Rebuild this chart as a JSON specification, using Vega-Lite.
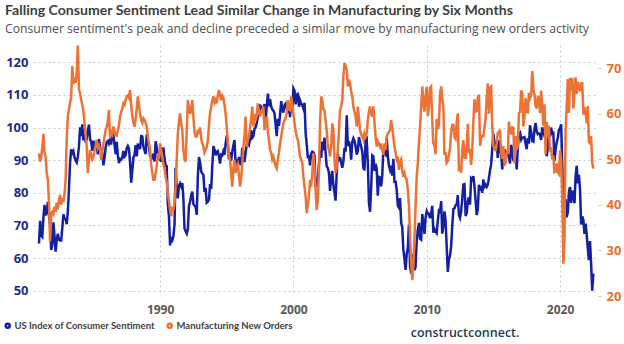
{
"$schema": "https://vega.github.io/schema/vega-lite/v6.json",
"width": 565, "height": 251,
"autosize": {"type": "none"},
"padding": {"left": 33, "top": 45, "right": 26, "bottom": 48},
"title": {"text": "Falling Consumer Sentiment Lead Similar Change in Manufacturing by Six Months", "subtitle": "Consumer sentiment's peak and decline preceded a similar move by manufacturing new orders activity", "anchor": "start", "frame": "group", "dx": -28, "offset": 5, "font": "Lato", "fontSize": 14.1, "fontWeight": "bold", "color": "#404040", "subtitleFont": "Open Sans", "subtitleFontSize": 12.2, "subtitleColor": "#505050", "subtitlePadding": 5},
"data": {"values": [
{"d":"1980-12","c":64.5,"n":51.3},
{"d":"1981-01","c":71.4,"n":49.5},{"d":"1981-02","c":66.9,"n":50.6},{"d":"1981-03","c":66.5,"n":52.5},{"d":"1981-04","c":72.4,"n":55.6},{"d":"1981-05","c":76.3,"n":51.5},{"d":"1981-06","c":73.1,"n":50.5},{"d":"1981-07","c":74.1,"n":46.9},{"d":"1981-08","c":77.2,"n":45.5},{"d":"1981-09","c":73.1,"n":40.5},{"d":"1981-10","c":70.3,"n":32.0},{"d":"1981-11","c":62.5,"n":38.0},{"d":"1981-12","c":64.3,"n":38.5},
{"d":"1982-01","c":71.0,"n":38.0},{"d":"1982-02","c":66.5,"n":39.6},{"d":"1982-03","c":62.0,"n":38.5},{"d":"1982-04","c":65.5,"n":40.5},{"d":"1982-05","c":67.5,"n":39.0},{"d":"1982-06","c":65.7,"n":41.0},{"d":"1982-07","c":65.4,"n":42.2},{"d":"1982-08","c":65.4,"n":40.0},{"d":"1982-09","c":69.3,"n":41.5},{"d":"1982-10","c":73.4,"n":40.6},{"d":"1982-11","c":72.1,"n":42.5},{"d":"1982-12","c":71.9,"n":45.5},
{"d":"1983-01","c":70.4,"n":55.0},{"d":"1983-02","c":74.6,"n":59.5},{"d":"1983-03","c":80.8,"n":60.8},{"d":"1983-04","c":89.1,"n":62.5},{"d":"1983-05","c":93.3,"n":63.5},{"d":"1983-06","c":92.2,"n":70.5},{"d":"1983-07","c":92.8,"n":66.5},{"d":"1983-08","c":90.9,"n":68.0},{"d":"1983-09","c":89.9,"n":66.8},{"d":"1983-10","c":89.3,"n":69.0},{"d":"1983-11","c":91.1,"n":75.0},{"d":"1983-12","c":94.2,"n":65.5},
{"d":"1984-01","c":100.1,"n":64.5},{"d":"1984-02","c":97.4,"n":63.0},{"d":"1984-03","c":101.0,"n":62.0},{"d":"1984-04","c":96.1,"n":60.5},{"d":"1984-05","c":98.1,"n":58.0},{"d":"1984-06","c":95.5,"n":55.5},{"d":"1984-07","c":96.6,"n":52.8},{"d":"1984-08","c":99.1,"n":47.0},{"d":"1984-09","c":100.9,"n":50.0},{"d":"1984-10","c":96.3,"n":52.1},{"d":"1984-11","c":95.7,"n":51.0},{"d":"1984-12","c":92.9,"n":50.0},
{"d":"1985-01","c":96.0,"n":50.6},{"d":"1985-02","c":93.7,"n":52.0},{"d":"1985-03","c":93.7,"n":53.0},{"d":"1985-04","c":94.6,"n":54.3},{"d":"1985-05","c":91.8,"n":52.5},{"d":"1985-06","c":96.5,"n":53.0},{"d":"1985-07","c":94.0,"n":52.1},{"d":"1985-08","c":92.4,"n":49.9},{"d":"1985-09","c":92.1,"n":51.5},{"d":"1985-10","c":88.4,"n":53.5},{"d":"1985-11","c":90.9,"n":55.0},{"d":"1985-12","c":93.9,"n":56.4},
{"d":"1986-01","c":95.6,"n":57.2},{"d":"1986-02","c":95.9,"n":58.5},{"d":"1986-03","c":95.1,"n":60.8},{"d":"1986-04","c":96.2,"n":54.6},{"d":"1986-05","c":94.8,"n":56.0},{"d":"1986-06","c":99.3,"n":55.5},{"d":"1986-07","c":97.7,"n":57.2},{"d":"1986-08","c":94.9,"n":56.0},{"d":"1986-09","c":91.9,"n":55.7},{"d":"1986-10","c":95.6,"n":55.0},{"d":"1986-11","c":91.4,"n":56.5},{"d":"1986-12","c":89.1,"n":57.5},
{"d":"1987-01","c":90.4,"n":59.4},{"d":"1987-02","c":90.2,"n":60.5},{"d":"1987-03","c":90.8,"n":61.0},{"d":"1987-04","c":92.8,"n":62.3},{"d":"1987-05","c":91.1,"n":62.0},{"d":"1987-06","c":91.5,"n":63.0},{"d":"1987-07","c":93.7,"n":63.8},{"d":"1987-08","c":94.4,"n":64.0},{"d":"1987-09","c":93.6,"n":63.5},{"d":"1987-10","c":89.3,"n":65.2},{"d":"1987-11","c":83.1,"n":62.0},{"d":"1987-12","c":86.8,"n":59.4},
{"d":"1988-01","c":90.8,"n":58.0},{"d":"1988-02","c":91.6,"n":57.2},{"d":"1988-03","c":94.6,"n":59.0},{"d":"1988-04","c":91.2,"n":61.0},{"d":"1988-05","c":94.8,"n":63.8},{"d":"1988-06","c":94.7,"n":62.0},{"d":"1988-07","c":93.4,"n":60.0},{"d":"1988-08","c":97.4,"n":58.6},{"d":"1988-09","c":97.3,"n":58.0},{"d":"1988-10","c":94.1,"n":59.0},{"d":"1988-11","c":93.0,"n":58.6},{"d":"1988-12","c":91.9,"n":58.0},
{"d":"1989-01","c":97.9,"n":57.2},{"d":"1989-02","c":95.4,"n":55.0},{"d":"1989-03","c":94.3,"n":53.5},{"d":"1989-04","c":91.5,"n":52.1},{"d":"1989-05","c":90.7,"n":49.0},{"d":"1989-06","c":90.6,"n":47.0},{"d":"1989-07","c":92.0,"n":45.5},{"d":"1989-08","c":89.6,"n":45.5},{"d":"1989-09","c":95.8,"n":47.0},{"d":"1989-10","c":93.9,"n":48.5},{"d":"1989-11","c":90.9,"n":51.3},{"d":"1989-12","c":90.5,"n":50.0},
{"d":"1990-01","c":93.0,"n":53.5},{"d":"1990-02","c":89.5,"n":52.0},{"d":"1990-03","c":91.3,"n":50.6},{"d":"1990-04","c":93.9,"n":49.0},{"d":"1990-05","c":90.6,"n":48.0},{"d":"1990-06","c":88.3,"n":46.2},{"d":"1990-07","c":88.2,"n":45.0},{"d":"1990-08","c":76.4,"n":42.5},{"d":"1990-09","c":72.8,"n":41.0},{"d":"1990-10","c":63.9,"n":38.9},{"d":"1990-11","c":66.0,"n":37.5},{"d":"1990-12","c":65.5,"n":39.6},
{"d":"1991-01","c":66.8,"n":38.9},{"d":"1991-02","c":70.4,"n":40.5},{"d":"1991-03","c":87.7,"n":44.0},{"d":"1991-04","c":81.8,"n":50.0},{"d":"1991-05","c":78.3,"n":55.5},{"d":"1991-06","c":82.1,"n":58.0},{"d":"1991-07","c":82.9,"n":60.1},{"d":"1991-08","c":82.0,"n":57.9},{"d":"1991-09","c":83.0,"n":56.5},{"d":"1991-10","c":78.3,"n":52.1},{"d":"1991-11","c":69.1,"n":50.0},{"d":"1991-12","c":68.2,"n":49.5},
{"d":"1992-01","c":67.5,"n":56.4},{"d":"1992-02","c":68.8,"n":63.0},{"d":"1992-03","c":76.0,"n":61.5},{"d":"1992-04","c":77.2,"n":60.0},{"d":"1992-05","c":79.2,"n":60.8},{"d":"1992-06","c":80.4,"n":63.0},{"d":"1992-07","c":76.6,"n":59.4},{"d":"1992-08","c":76.1,"n":56.0},{"d":"1992-09","c":75.6,"n":55.0},{"d":"1992-10","c":73.3,"n":55.0},{"d":"1992-11","c":85.3,"n":56.5},{"d":"1992-12","c":91.0,"n":55.7},
{"d":"1993-01","c":89.3,"n":57.0},{"d":"1993-02","c":86.6,"n":54.5},{"d":"1993-03","c":85.9,"n":53.5},{"d":"1993-04","c":85.6,"n":52.8},{"d":"1993-05","c":80.3,"n":51.5},{"d":"1993-06","c":81.5,"n":52.1},{"d":"1993-07","c":77.0,"n":52.8},{"d":"1993-08","c":77.3,"n":54.0},{"d":"1993-09","c":77.9,"n":57.5},{"d":"1993-10","c":82.7,"n":60.1},{"d":"1993-11","c":81.2,"n":61.5},{"d":"1993-12","c":88.2,"n":63.0},
{"d":"1994-01","c":94.3,"n":63.8},{"d":"1994-02","c":93.2,"n":62.5},{"d":"1994-03","c":91.5,"n":63.0},{"d":"1994-04","c":92.6,"n":62.3},{"d":"1994-05","c":92.8,"n":64.0},{"d":"1994-06","c":91.2,"n":65.2},{"d":"1994-07","c":89.0,"n":64.0},{"d":"1994-08","c":91.7,"n":63.0},{"d":"1994-09","c":91.5,"n":64.0},{"d":"1994-10","c":92.7,"n":63.5},{"d":"1994-11","c":91.6,"n":62.0},{"d":"1994-12","c":95.1,"n":60.1},
{"d":"1995-01","c":97.6,"n":57.0},{"d":"1995-02","c":95.1,"n":53.5},{"d":"1995-03","c":90.3,"n":51.0},{"d":"1995-04","c":92.5,"n":49.9},{"d":"1995-05","c":89.8,"n":47.0},{"d":"1995-06","c":92.7,"n":44.0},{"d":"1995-07","c":94.4,"n":48.0},{"d":"1995-08","c":96.2,"n":49.9},{"d":"1995-09","c":88.9,"n":47.0},{"d":"1995-10","c":90.2,"n":48.5},{"d":"1995-11","c":88.2,"n":49.0},{"d":"1995-12","c":91.0,"n":46.5},
{"d":"1996-01","c":89.3,"n":44.0},{"d":"1996-02","c":88.5,"n":46.0},{"d":"1996-03","c":93.7,"n":49.0},{"d":"1996-04","c":92.7,"n":52.8},{"d":"1996-05","c":89.4,"n":55.0},{"d":"1996-06","c":92.4,"n":59.4},{"d":"1996-07","c":94.7,"n":52.8},{"d":"1996-08","c":95.3,"n":54.3},{"d":"1996-09","c":94.7,"n":55.0},{"d":"1996-10","c":96.5,"n":57.0},{"d":"1996-11","c":99.2,"n":59.0},{"d":"1996-12","c":96.9,"n":61.6},
{"d":"1997-01","c":97.4,"n":57.2},{"d":"1997-02","c":99.7,"n":60.0},{"d":"1997-03","c":100.0,"n":58.5},{"d":"1997-04","c":101.4,"n":59.5},{"d":"1997-05","c":103.2,"n":62.3},{"d":"1997-06","c":104.5,"n":60.5},{"d":"1997-07","c":107.1,"n":59.4},{"d":"1997-08","c":104.4,"n":60.5},{"d":"1997-09","c":106.0,"n":61.0},{"d":"1997-10","c":105.6,"n":61.6},{"d":"1997-11","c":107.2,"n":56.4},{"d":"1997-12","c":102.1,"n":58.0},
{"d":"1998-01","c":106.6,"n":59.4},{"d":"1998-02","c":110.4,"n":56.0},{"d":"1998-03","c":106.5,"n":54.5},{"d":"1998-04","c":108.7,"n":52.1},{"d":"1998-05","c":106.5,"n":51.5},{"d":"1998-06","c":105.6,"n":50.0},{"d":"1998-07","c":105.2,"n":50.6},{"d":"1998-08","c":104.4,"n":49.5},{"d":"1998-09","c":100.9,"n":48.5},{"d":"1998-10","c":97.4,"n":48.0},{"d":"1998-11","c":102.7,"n":49.9},{"d":"1998-12","c":100.5,"n":51.5},
{"d":"1999-01","c":103.9,"n":53.5},{"d":"1999-02","c":108.1,"n":55.0},{"d":"1999-03","c":105.7,"n":56.5},{"d":"1999-04","c":104.6,"n":57.9},{"d":"1999-05","c":106.8,"n":58.5},{"d":"1999-06","c":107.3,"n":59.0},{"d":"1999-07","c":106.0,"n":60.1},{"d":"1999-08","c":104.5,"n":63.0},{"d":"1999-09","c":107.2,"n":61.0},{"d":"1999-10","c":103.2,"n":60.8},{"d":"1999-11","c":107.2,"n":63.8},{"d":"1999-12","c":105.4,"n":62.0},
{"d":"2000-01","c":112.0,"n":60.1},{"d":"2000-02","c":111.3,"n":58.0},{"d":"2000-03","c":107.1,"n":56.4},{"d":"2000-04","c":109.2,"n":55.0},{"d":"2000-05","c":110.7,"n":54.3},{"d":"2000-06","c":106.4,"n":52.5},{"d":"2000-07","c":108.3,"n":50.6},{"d":"2000-08","c":107.3,"n":50.0},{"d":"2000-09","c":106.8,"n":49.1},{"d":"2000-10","c":105.8,"n":46.2},{"d":"2000-11","c":107.6,"n":44.0},{"d":"2000-12","c":98.4,"n":41.8},
{"d":"2001-01","c":94.7,"n":38.2},{"d":"2001-02","c":90.6,"n":40.0},{"d":"2001-03","c":91.5,"n":41.8},{"d":"2001-04","c":88.4,"n":45.5},{"d":"2001-05","c":92.0,"n":44.0},{"d":"2001-06","c":92.6,"n":47.0},{"d":"2001-07","c":92.4,"n":51.3},{"d":"2001-08","c":91.5,"n":48.0},{"d":"2001-09","c":81.8,"n":43.3},{"d":"2001-10","c":82.7,"n":38.9},{"d":"2001-11","c":83.9,"n":41.0},{"d":"2001-12","c":88.8,"n":47.5},
{"d":"2002-01","c":93.0,"n":58.0},{"d":"2002-02","c":90.7,"n":63.8},{"d":"2002-03","c":95.7,"n":63.0},{"d":"2002-04","c":93.0,"n":61.0},{"d":"2002-05","c":96.9,"n":60.8},{"d":"2002-06","c":92.4,"n":58.5},{"d":"2002-07","c":88.1,"n":56.4},{"d":"2002-08","c":87.6,"n":53.0},{"d":"2002-09","c":86.1,"n":52.0},{"d":"2002-10","c":80.6,"n":50.6},{"d":"2002-11","c":84.2,"n":52.8},{"d":"2002-12","c":86.7,"n":57.9},
{"d":"2003-01","c":82.4,"n":56.4},{"d":"2003-02","c":79.9,"n":50.0},{"d":"2003-03","c":77.6,"n":47.0},{"d":"2003-04","c":86.0,"n":48.3},{"d":"2003-05","c":92.1,"n":52.0},{"d":"2003-06","c":89.7,"n":56.0},{"d":"2003-07","c":90.9,"n":60.8},{"d":"2003-08","c":89.3,"n":61.6},{"d":"2003-09","c":87.7,"n":63.0},{"d":"2003-10","c":89.6,"n":68.2},{"d":"2003-11","c":93.7,"n":71.1},{"d":"2003-12","c":92.6,"n":70.5},
{"d":"2004-01","c":103.8,"n":69.6},{"d":"2004-02","c":94.4,"n":66.0},{"d":"2004-03","c":95.8,"n":67.5},{"d":"2004-04","c":94.2,"n":66.7},{"d":"2004-05","c":90.2,"n":65.0},{"d":"2004-06","c":95.6,"n":63.8},{"d":"2004-07","c":96.7,"n":61.6},{"d":"2004-08","c":95.9,"n":60.5},{"d":"2004-09","c":94.2,"n":59.4},{"d":"2004-10","c":91.7,"n":57.2},{"d":"2004-11","c":92.8,"n":61.6},{"d":"2004-12","c":97.1,"n":59.0},
{"d":"2005-01","c":95.5,"n":56.4},{"d":"2005-02","c":94.1,"n":55.5},{"d":"2005-03","c":92.6,"n":55.0},{"d":"2005-04","c":87.7,"n":54.3},{"d":"2005-05","c":86.9,"n":55.7},{"d":"2005-06","c":96.0,"n":55.0},{"d":"2005-07","c":96.5,"n":55.7},{"d":"2005-08","c":89.1,"n":58.6},{"d":"2005-09","c":76.9,"n":60.5},{"d":"2005-10","c":74.2,"n":61.6},{"d":"2005-11","c":81.6,"n":60.0},{"d":"2005-12","c":91.5,"n":59.4},
{"d":"2006-01","c":91.2,"n":61.6},{"d":"2006-02","c":86.7,"n":58.0},{"d":"2006-03","c":88.9,"n":55.0},{"d":"2006-04","c":87.4,"n":52.8},{"d":"2006-05","c":79.1,"n":54.0},{"d":"2006-06","c":84.9,"n":53.5},{"d":"2006-07","c":84.7,"n":52.8},{"d":"2006-08","c":82.0,"n":53.5},{"d":"2006-09","c":85.4,"n":52.0},{"d":"2006-10","c":93.6,"n":51.0},{"d":"2006-11","c":92.1,"n":53.5},{"d":"2006-12","c":91.7,"n":52.0},
{"d":"2007-01","c":96.9,"n":55.0},{"d":"2007-02","c":91.3,"n":55.7},{"d":"2007-03","c":88.4,"n":56.0},{"d":"2007-04","c":87.1,"n":56.4},{"d":"2007-05","c":88.3,"n":58.6},{"d":"2007-06","c":85.3,"n":57.0},{"d":"2007-07","c":90.4,"n":55.0},{"d":"2007-08","c":83.4,"n":52.8},{"d":"2007-09","c":83.4,"n":51.5},{"d":"2007-10","c":80.9,"n":50.0},{"d":"2007-11","c":76.1,"n":50.6},{"d":"2007-12","c":75.5,"n":47.7},
{"d":"2008-01","c":78.4,"n":49.5},{"d":"2008-02","c":70.8,"n":50.0},{"d":"2008-03","c":69.5,"n":47.5},{"d":"2008-04","c":62.6,"n":46.2},{"d":"2008-05","c":59.8,"n":47.0},{"d":"2008-06","c":56.4,"n":46.0},{"d":"2008-07","c":61.2,"n":45.5},{"d":"2008-08","c":63.0,"n":43.3},{"d":"2008-09","c":70.3,"n":40.0},{"d":"2008-10","c":57.6,"n":33.0},{"d":"2008-11","c":55.3,"n":27.2},{"d":"2008-12","c":60.1,"n":23.5},
{"d":"2009-01","c":61.2,"n":27.0},{"d":"2009-02","c":56.3,"n":33.0},{"d":"2009-03","c":57.3,"n":39.6},{"d":"2009-04","c":65.1,"n":46.2},{"d":"2009-05","c":68.7,"n":49.0},{"d":"2009-06","c":70.8,"n":53.5},{"d":"2009-07","c":66.0,"n":57.0},{"d":"2009-08","c":65.7,"n":61.6},{"d":"2009-09","c":73.5,"n":66.0},{"d":"2009-10","c":70.6,"n":62.3},{"d":"2009-11","c":67.4,"n":60.5},{"d":"2009-12","c":72.5,"n":63.8},
{"d":"2010-01","c":74.4,"n":65.9},{"d":"2010-02","c":73.6,"n":59.5},{"d":"2010-03","c":73.6,"n":61.5},{"d":"2010-04","c":72.2,"n":65.7},{"d":"2010-05","c":73.6,"n":66.0},{"d":"2010-06","c":76.0,"n":58.5},{"d":"2010-07","c":67.8,"n":53.5},{"d":"2010-08","c":68.9,"n":53.1},{"d":"2010-09","c":68.2,"n":51.1},{"d":"2010-10","c":67.7,"n":58.9},{"d":"2010-11","c":71.6,"n":56.6},{"d":"2010-12","c":74.5,"n":57.5},
{"d":"2011-01","c":74.2,"n":64.5},{"d":"2011-02","c":77.5,"n":66.0},{"d":"2011-03","c":67.5,"n":63.3},{"d":"2011-04","c":69.8,"n":61.7},{"d":"2011-05","c":74.3,"n":51.0},{"d":"2011-06","c":71.5,"n":51.6},{"d":"2011-07","c":63.7,"n":49.2},{"d":"2011-08","c":55.8,"n":49.6},{"d":"2011-09","c":59.5,"n":51.0},{"d":"2011-10","c":60.8,"n":52.4},{"d":"2011-11","c":63.7,"n":56.1},{"d":"2011-12","c":69.9,"n":57.6},
{"d":"2012-01","c":75.0,"n":57.6},{"d":"2012-02","c":75.3,"n":54.9},{"d":"2012-03","c":76.2,"n":54.5},{"d":"2012-04","c":76.4,"n":58.2},{"d":"2012-05","c":79.3,"n":60.1},{"d":"2012-06","c":73.2,"n":47.8},{"d":"2012-07","c":72.3,"n":48.0},{"d":"2012-08","c":74.3,"n":47.1},{"d":"2012-09","c":78.3,"n":52.3},{"d":"2012-10","c":82.6,"n":54.2},{"d":"2012-11","c":82.7,"n":50.3},{"d":"2012-12","c":72.9,"n":50.3},
{"d":"2013-01","c":73.8,"n":53.3},{"d":"2013-02","c":77.6,"n":57.8},{"d":"2013-03","c":78.6,"n":51.4},{"d":"2013-04","c":76.4,"n":52.3},{"d":"2013-05","c":84.5,"n":48.8},{"d":"2013-06","c":84.1,"n":51.9},{"d":"2013-07","c":85.1,"n":58.3},{"d":"2013-08","c":82.1,"n":63.2},{"d":"2013-09","c":77.5,"n":60.5},{"d":"2013-10","c":73.2,"n":60.6},{"d":"2013-11","c":75.1,"n":63.6},{"d":"2013-12","c":82.5,"n":64.2},
{"d":"2014-01","c":81.2,"n":53.0},{"d":"2014-02","c":81.6,"n":54.5},{"d":"2014-03","c":80.0,"n":55.1},{"d":"2014-04","c":84.1,"n":55.1},{"d":"2014-05","c":81.9,"n":56.9},{"d":"2014-06","c":82.5,"n":58.9},{"d":"2014-07","c":81.8,"n":63.4},{"d":"2014-08","c":82.5,"n":66.7},{"d":"2014-09","c":84.6,"n":60.0},{"d":"2014-10","c":86.9,"n":65.8},{"d":"2014-11","c":88.8,"n":66.0},{"d":"2014-12","c":93.6,"n":57.3},
{"d":"2015-01","c":98.1,"n":52.9},{"d":"2015-02","c":95.4,"n":52.5},{"d":"2015-03","c":93.0,"n":51.8},{"d":"2015-04","c":95.9,"n":53.5},{"d":"2015-05","c":90.7,"n":55.8},{"d":"2015-06","c":96.1,"n":56.0},{"d":"2015-07","c":93.1,"n":56.5},{"d":"2015-08","c":91.9,"n":51.7},{"d":"2015-09","c":87.2,"n":50.1},{"d":"2015-10","c":90.0,"n":52.9},{"d":"2015-11","c":91.3,"n":48.9},{"d":"2015-12","c":92.6,"n":49.2},
{"d":"2016-01","c":92.0,"n":51.5},{"d":"2016-02","c":91.7,"n":51.5},{"d":"2016-03","c":91.0,"n":58.3},{"d":"2016-04","c":89.0,"n":55.8},{"d":"2016-05","c":94.7,"n":55.7},{"d":"2016-06","c":93.5,"n":57.0},{"d":"2016-07","c":90.0,"n":56.9},{"d":"2016-08","c":89.8,"n":49.1},{"d":"2016-09","c":91.2,"n":55.1},{"d":"2016-10","c":87.2,"n":52.1},{"d":"2016-11","c":93.8,"n":53.0},{"d":"2016-12","c":98.2,"n":60.2},
{"d":"2017-01","c":98.5,"n":60.4},{"d":"2017-02","c":96.3,"n":65.1},{"d":"2017-03","c":96.9,"n":64.5},{"d":"2017-04","c":97.0,"n":57.2},{"d":"2017-05","c":97.1,"n":59.5},{"d":"2017-06","c":95.0,"n":63.5},{"d":"2017-07","c":93.4,"n":60.4},{"d":"2017-08","c":96.8,"n":60.3},{"d":"2017-09","c":95.1,"n":64.6},{"d":"2017-10","c":100.7,"n":63.4},{"d":"2017-11","c":98.5,"n":64.0},{"d":"2017-12","c":95.9,"n":69.4},
{"d":"2018-01","c":95.7,"n":65.4},{"d":"2018-02","c":99.7,"n":64.2},{"d":"2018-03","c":101.4,"n":61.9},{"d":"2018-04","c":98.8,"n":61.2},{"d":"2018-05","c":98.0,"n":63.7},{"d":"2018-06","c":98.2,"n":63.5},{"d":"2018-07","c":97.9,"n":60.2},{"d":"2018-08","c":96.2,"n":65.1},{"d":"2018-09","c":100.1,"n":61.8},{"d":"2018-10","c":98.6,"n":57.4},{"d":"2018-11","c":97.5,"n":62.1},{"d":"2018-12","c":98.3,"n":51.1},
{"d":"2019-01","c":91.2,"n":58.2},{"d":"2019-02","c":93.8,"n":55.5},{"d":"2019-03","c":98.4,"n":57.4},{"d":"2019-04","c":97.2,"n":51.7},{"d":"2019-05","c":100.0,"n":52.7},{"d":"2019-06","c":98.2,"n":50.0},{"d":"2019-07","c":98.4,"n":50.8},{"d":"2019-08","c":89.8,"n":47.2},{"d":"2019-09","c":93.2,"n":47.3},{"d":"2019-10","c":95.5,"n":49.1},{"d":"2019-11","c":96.8,"n":47.2},{"d":"2019-12","c":99.3,"n":46.8},
{"d":"2020-01","c":99.8,"n":52.0},{"d":"2020-02","c":101.0,"n":49.8},{"d":"2020-03","c":89.1,"n":42.2},{"d":"2020-04","c":71.8,"n":27.1},{"d":"2020-05","c":72.3,"n":31.8},{"d":"2020-06","c":78.1,"n":56.4},{"d":"2020-07","c":72.5,"n":61.5},{"d":"2020-08","c":74.1,"n":67.6},{"d":"2020-09","c":80.4,"n":60.2},{"d":"2020-10","c":81.8,"n":67.9},{"d":"2020-11","c":76.9,"n":65.1},{"d":"2020-12","c":80.7,"n":67.9},
{"d":"2021-01","c":79.0,"n":61.1},{"d":"2021-02","c":76.8,"n":64.8},{"d":"2021-03","c":84.9,"n":68.0},{"d":"2021-04","c":88.3,"n":64.3},{"d":"2021-05","c":82.9,"n":67.0},{"d":"2021-06","c":85.5,"n":66.0},{"d":"2021-07","c":81.2,"n":64.9},{"d":"2021-08","c":70.3,"n":66.7},{"d":"2021-09","c":72.8,"n":66.7},{"d":"2021-10","c":71.7,"n":59.8},{"d":"2021-11","c":67.4,"n":61.5},{"d":"2021-12","c":70.6,"n":60.4},
{"d":"2022-01","c":67.2,"n":57.9},{"d":"2022-02","c":62.8,"n":61.7},{"d":"2022-03","c":59.4,"n":53.8},{"d":"2022-04","c":65.2,"n":53.5},{"d":"2022-05","c":58.4,"n":55.1},{"d":"2022-06","c":50.0,"n":49.2},{"d":"2022-07","c":55.3,"n":48.0}
]},
"encoding": {
  "x": {"field": "d", "type": "temporal",
        "scale": {"domain": ["1980-06-20", "2022-11-06"]},
        "axis": {"title": "constructconnect.", "titleAnchor": "end", "titleAlign": "right", "titleX": 486, "titleY": 40, "titleFont": "Open Sans", "titleFontSize": 12.5, "titleFontWeight": 600, "titleColor": "#26395a", "titleBaseline": "alphabetic",
                 "tickCount": {"interval": "year", "step": 10}, "format": "%Y", "labelFontSize": 12, "labelFontWeight": "bold", "labelColor": "#595959", "labelPadding": 8,
                 "domain": false, "ticks": false, "grid": true, "gridDash": [2, 3], "gridColor": "#c8c8c8"}}
},
"layer": [
  {"mark": {"type": "line", "strokeWidth": 2.5, "interpolate": "linear"},
   "encoding": {
     "y": {"field": "c", "type": "quantitative", "scale": {"domain": [48.4, 125.3], "nice": false, "zero": false},
           "axis": {"title": null, "values": [50, 60, 70, 80, 90, 100, 110, 120], "labelFontSize": 13, "labelFontWeight": "bold", "labelColor": "#1f2a8c", "labelPadding": 5, "domain": false, "ticks": false, "grid": true, "gridDash": [2, 3], "gridColor": "#c8c8c8"}},
     "color": {"datum": "US Index of Consumer Sentiment"}
   }},
  {"mark": {"type": "line", "strokeWidth": 2.5, "interpolate": "linear"},
   "encoding": {
     "y": {"field": "n", "type": "quantitative", "scale": {"domain": [20, 75.1], "nice": false, "zero": false},
           "axis": {"orient": "right", "title": null, "values": [20, 30, 40, 50, 60, 70], "labelFontSize": 13, "labelFontWeight": "bold", "labelColor": "#e8702e", "labelPadding": 5, "domain": false, "ticks": true, "tickSize": 3, "tickColor": "#c8c8c8", "grid": false}},
     "color": {"datum": "Manufacturing New Orders"}
   }}
],
"resolve": {"scale": {"y": "independent"}},
"config": {"font": "Open Sans", "view": {"stroke": null},
  "range": {"category": ["#1420a0", "#ec7236"]},
  "legend": {"orient": "none", "legendX": -30, "legendY": 276, "direction": "horizontal", "title": null, "symbolType": "circle", "symbolSize": 6, "symbolStrokeWidth": 4, "labelFont": "Lato", "labelFontSize": 9.5, "labelFontWeight": "bold", "labelColor": "#404040", "labelOffset": 2, "labelLimit": 300, "columnPadding": 5}
}
}
